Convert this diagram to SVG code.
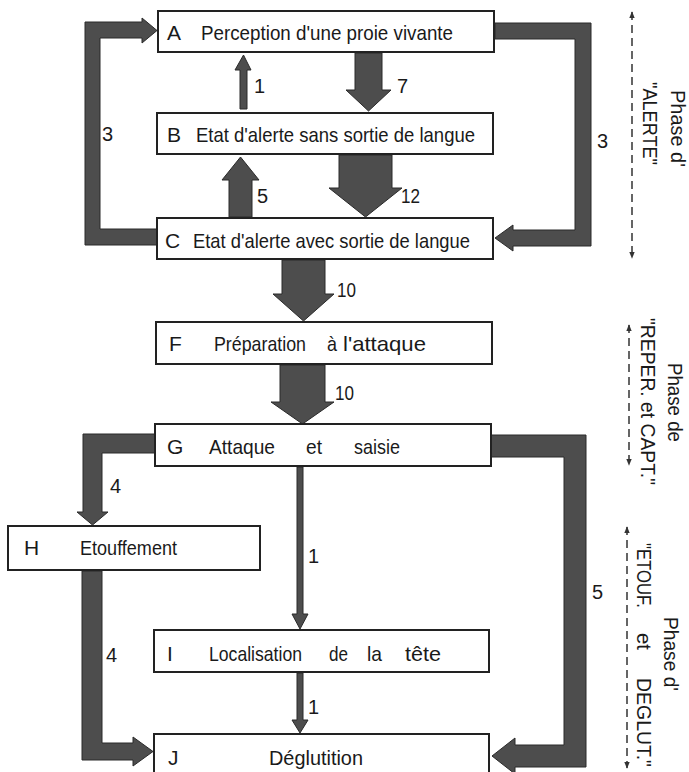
<svg xmlns="http://www.w3.org/2000/svg" width="689" height="772" viewBox="0 0 689 772">
<defs>
<style>
.box{fill:#fff;stroke:#222;stroke-width:2}
.fat{fill:#4d4d4d;stroke:#2a2a2a;stroke-width:1;stroke-linejoin:miter}
.t{font-family:"Liberation Sans",Arial,sans-serif;font-size:21px;fill:#1a1a1a}
.r{font-family:"Liberation Sans",Arial,sans-serif;font-size:20px;fill:#1a1a1a}
.n{font-family:"Liberation Sans",Arial,sans-serif;font-size:20px;fill:#1a1a1a}
.dash{stroke:#333;stroke-width:1.5;stroke-dasharray:8 5;fill:none;marker-start:url(#ah);marker-end:url(#ah)}
</style>
<marker id="ah" viewBox="0 0 10 8" refX="9" refY="4" markerWidth="7" markerHeight="6" orient="auto-start-reverse" markerUnits="userSpaceOnUse">
<path d="M0,0 L10,4 L0,8 Z" fill="#333"/>
</marker>
</defs>
<rect width="689" height="772" fill="#fff"/>

<g id="connectors">
<polygon class="fat" points="240,109 247,109 247,70 251,70 243.5,55 235,70 240,70"/>
<polygon class="fat" points="355,53 382,53 382,90 391,90 368.5,111 346,90 355,90"/>
<polygon class="fat" points="229,217 252,217 252,180 259,180 240.5,157 222,180 229,180"/>
<polygon class="fat" points="339,155 392,155 392,188 402,188 365.5,217 329,188 339,188"/>
<polygon class="fat" points="157,245 85,245 85,22 142,22 142,18 157,30.5 142,43 142,38 100,38 100,229 157,229"/>
<polygon class="fat" points="495,23 591,23 591,246 513,246 513,251 495,238 513,225 513,230 575,230 575,39 495,39"/>
<polygon class="fat" points="282,260 325,260 325,294 334,294 303.5,321 273,294 282,294"/>
<polygon class="fat" points="280,365 325,365 325,402 334,402 302.5,424 271,402 280,402"/>
<polygon class="fat" points="155,434 83,434 83,512 77,512 92.5,525 108,512 102,512 102,453 155,453"/>
<polygon class="fat" points="82,571 102,571 102,743 133,743 133,737 153,751.5 133,766 133,760 82,760"/>
<polygon class="fat" points="491,435 586,435 586,767 515,767 515,774 492,756 515,738 515,745 564,745 564,457 491,457"/>
<polygon class="fat" points="297,467 303,467 303,614 308,614 300,629 292,614 297,614"/>
<polygon class="fat" points="297,673 303,673 303,720 308,720 300,733 292,720 297,720"/>
<text class="n" x="254" y="93">1</text>
<text class="n" x="397" y="93">7</text>
<text class="n" x="257" y="203">5</text>
<text class="n" x="401" y="203" textLength="19" lengthAdjust="spacingAndGlyphs">12</text>
<text class="n" x="102" y="141">3</text>
<text class="n" x="597" y="148">3</text>
<text class="n" x="337" y="297" textLength="19" lengthAdjust="spacingAndGlyphs">10</text>
<text class="n" x="335" y="400" textLength="19" lengthAdjust="spacingAndGlyphs">10</text>
<text class="n" x="110" y="493">4</text>
<text class="n" x="106" y="662">4</text>
<text class="n" x="308" y="563">1</text>
<text class="n" x="308" y="714">1</text>
<text class="n" x="592" y="599">5</text>
</g>

<g id="A">
<rect class="box" x="158" y="11" width="336" height="41"/>
<text class="t" x="167" y="40">A</text>
<text class="t" x="201" y="40" textLength="252" lengthAdjust="spacingAndGlyphs">Perception d'une proie vivante</text>
</g>
<g id="B">
<rect class="box" x="157" y="113" width="336" height="41"/>
<text class="t" x="167" y="142">B</text>
<text class="t" x="196" y="142" textLength="279" lengthAdjust="spacingAndGlyphs">Etat d'alerte sans sortie de langue</text>
</g>
<g id="C">
<rect class="box" x="157" y="218" width="336" height="41"/>
<text class="t" x="165" y="248">C</text>
<text class="t" x="193" y="248" textLength="277" lengthAdjust="spacingAndGlyphs">Etat d'alerte avec sortie de langue</text>
</g>
<g id="F">
<rect class="box" x="156" y="322" width="336" height="42"/>
<text class="t" x="169" y="351">F</text>
<text class="t" x="214" y="351" textLength="92" lengthAdjust="spacingAndGlyphs">Préparation</text>
<text class="t" x="327" y="351" textLength="10" lengthAdjust="spacingAndGlyphs">à</text>
<text class="t" x="343" y="351" textLength="83" lengthAdjust="spacingAndGlyphs">l'attaque</text>
</g>
<g id="G">
<rect class="box" x="155" y="424" width="336" height="42"/>
<text class="t" x="167" y="454">G</text>
<text class="t" x="209" y="454" textLength="66" lengthAdjust="spacingAndGlyphs">Attaque</text>
<text class="t" x="306" y="454" textLength="16" lengthAdjust="spacingAndGlyphs">et</text>
<text class="t" x="354" y="454" textLength="46" lengthAdjust="spacingAndGlyphs">saisie</text>
</g>
<g id="H">
<rect class="box" x="8" y="526" width="252" height="44"/>
<text class="t" x="24" y="555">H</text>
<text class="t" x="80" y="555" textLength="97" lengthAdjust="spacingAndGlyphs">Etouffement</text>
</g>
<g id="I">
<rect class="box" x="154" y="630" width="335" height="42"/>
<text class="t" x="167" y="661">I</text>
<text class="t" x="209" y="661" textLength="93" lengthAdjust="spacingAndGlyphs">Localisation</text>
<text class="t" x="329" y="661" textLength="19" lengthAdjust="spacingAndGlyphs">de</text>
<text class="t" x="367" y="661" textLength="15" lengthAdjust="spacingAndGlyphs">la</text>
<text class="t" x="405" y="661" textLength="36" lengthAdjust="spacingAndGlyphs">tête</text>
</g>
<g id="J">
<rect class="box" x="154" y="734" width="335" height="50"/>
<text class="t" x="168" y="765">J</text>
<text class="t" x="269" y="765" textLength="94" lengthAdjust="spacingAndGlyphs">Déglutition</text>
</g>

<g id="phases">
<line class="dash" x1="632" y1="12" x2="632" y2="258"/>
<line class="dash" x1="629" y1="325" x2="629" y2="465"/>
<line class="dash" x1="627" y1="527" x2="627" y2="768"/>
<g transform="translate(671,0) rotate(90)">
<text class="r" x="90" y="0" textLength="77" lengthAdjust="spacingAndGlyphs">Phase d'</text>
</g>
<g transform="translate(643,0) rotate(90)">
<text class="r" x="82" y="0" textLength="83" lengthAdjust="spacingAndGlyphs">"ALERTE"</text>
</g>
<g transform="translate(668,0) rotate(90)">
<text class="r" x="363" y="0" textLength="79" lengthAdjust="spacingAndGlyphs">Phase de</text>
</g>
<g transform="translate(641,0) rotate(90)">
<text class="r" x="318" y="0" textLength="167" lengthAdjust="spacingAndGlyphs">"REPER. et CAPT."</text>
</g>
<g transform="translate(664,0) rotate(90)">
<text class="r" x="617" y="0" textLength="74" lengthAdjust="spacingAndGlyphs">Phase d'</text>
</g>
<g transform="translate(637,0) rotate(90)">
<text class="r" x="543" y="0" textLength="65" lengthAdjust="spacingAndGlyphs">"ETOUF.</text>
<text class="r" x="633" y="0" textLength="17" lengthAdjust="spacingAndGlyphs">et</text>
<text class="r" x="678" y="0" textLength="89" lengthAdjust="spacingAndGlyphs">DEGLUT."</text>
</g>
</g>
</svg>
